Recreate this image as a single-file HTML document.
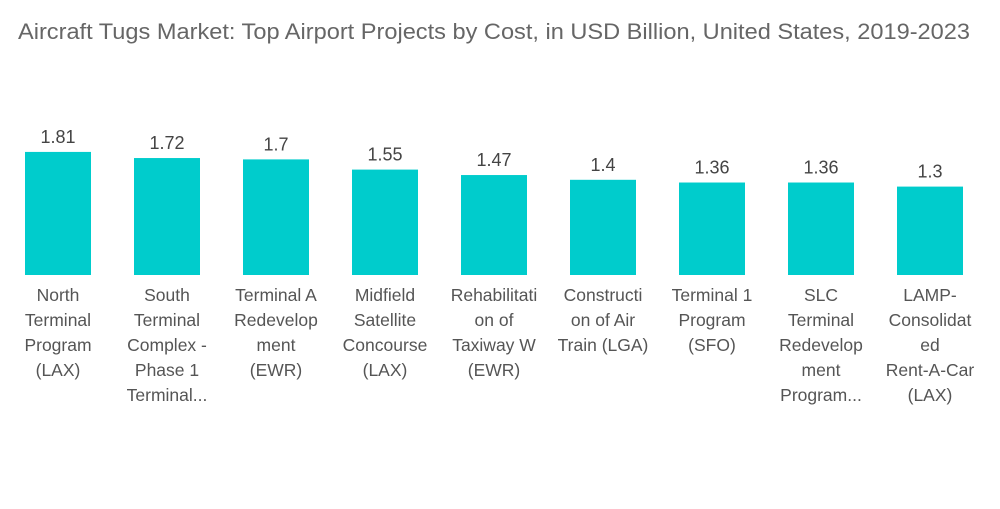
<!DOCTYPE html>
<html><head><meta charset="utf-8"><style>
body{margin:0;background:#fff;width:1000px;height:504px;overflow:hidden;font-family:"Liberation Sans",sans-serif}
</style></head><body>
<svg width="1000" height="504" id="c">
<text x="18" y="39" font-size="22.5" textLength="952" lengthAdjust="spacingAndGlyphs" fill="#666">Aircraft Tugs Market: Top Airport Projects by Cost, in USD Billion, United States, 2019-2023</text>
</svg>
<script>
const categories=[["North","Terminal","Program","(LAX)"],["South","Terminal","Complex -","Phase 1","Terminal..."],["Terminal A","Redevelop","ment","(EWR)"],["Midfield","Satellite","Concourse","(LAX)"],["Rehabilitati","on of","Taxiway W","(EWR)"],["Constructi","on of Air","Train (LGA)"],["Terminal 1","Program","(SFO)"],["SLC","Terminal","Redevelop","ment","Program..."],["LAMP-","Consolidat","ed","Rent-A-Car","(LAX)"]];
const values=[1.81,1.72,1.7,1.55,1.47,1.4,1.36,1.36,1.3];
const valueLabels=["1.81","1.72","1.7","1.55","1.47","1.4","1.36","1.36","1.3"];
const svg=document.getElementById('c');const NS='http://www.w3.org/2000/svg';
const base=275,scale=68,x0=58,step=109,bw=66;
const xf=i=>x0+i*step, yf=v=>base-v*scale;
values.forEach((v,i)=>{
 const r=document.createElementNS(NS,'rect');
 r.setAttribute('x',xf(i)-bw/2);r.setAttribute('y',yf(v));r.setAttribute('width',bw);r.setAttribute('height',base-yf(v));r.setAttribute('fill','#00CCCC');
 
 
 svg.appendChild(r);
 const t=document.createElementNS(NS,'text');
 t.setAttribute('x',xf(i));t.setAttribute('y',yf(v)-9);t.setAttribute('text-anchor','middle');t.setAttribute('font-size','18');t.setAttribute('fill','#444');t.textContent=valueLabels[i];
 
 
 svg.appendChild(t);
 categories[i].forEach((ln,j)=>{
  const c=document.createElementNS(NS,'text');
  c.setAttribute('x',xf(i));c.setAttribute('y',301+j*25);c.setAttribute('text-anchor','middle');c.setAttribute('font-size','17.5');c.setAttribute('fill','#555');c.textContent=ln;
  
  
  svg.appendChild(c);
 });
});
</script>
</body></html>
